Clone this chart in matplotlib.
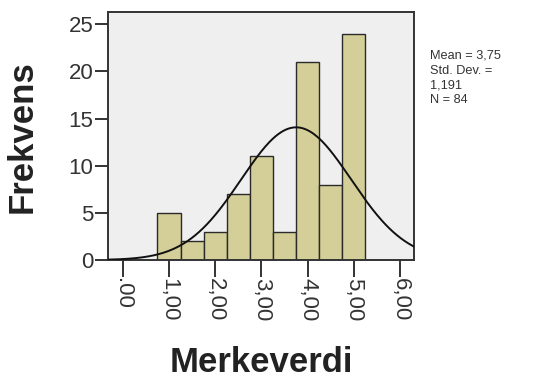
import numpy as np
import matplotlib
matplotlib.use("Agg")
import matplotlib.pyplot as plt

plt.rcParams['font.family'] = ['Liberation Sans', 'DejaVu Sans']

# Data
bin_edges = [0.75, 1.25, 1.75, 2.25, 2.75, 3.25, 3.75, 4.25, 4.75, 5.25]
counts = [5, 2, 3, 7, 11, 3, 21, 8, 24]
mean_val = 3.75
sd_val = 1.191
n_val = 84
x_ticks = [0, 1, 2, 3, 4, 5, 6]
x_ticklabels = [".00", "1,00", "2,00", "3,00", "4,00", "5,00", "6,00"]
y_ticks = [0, 5, 10, 15, 20, 25]
stats_text = "Mean = 3,75\nStd. Dev. =\n1,191\nN = 84"

fig = plt.figure(figsize=(5.35, 3.81), dpi=100)
ax = fig.add_axes([108/535, 1-260/381, (414-108)/535, (260-12)/381])
ax.set_facecolor('#EFEFEF')

lefts = np.array(bin_edges[:-1])
widths = np.diff(bin_edges)
ax.bar(lefts, counts, width=widths, align='edge', color='#D4CF98',
       edgecolor='#2a2a2a', linewidth=1.0, zorder=2)

bw = widths[0]
xs = np.linspace(-0.32, 6.30, 400)
ys = n_val * bw * np.exp(-0.5 * ((xs - mean_val) / sd_val) ** 2) / (sd_val * np.sqrt(2 * np.pi))
ax.plot(xs, ys, color='#111111', linewidth=1.4, zorder=3)

ax.set_xlim(-0.32, 6.30)
ax.set_ylim(0, 26.3)
ax.set_xticks(x_ticks)
ax.set_xticklabels(x_ticklabels, rotation=-90, fontsize=16, color='#333333')
ax.set_yticks(y_ticks)
ax.set_yticklabels([str(v) for v in y_ticks], fontsize=16, color='#333333')
ax.tick_params(axis='x', direction='out', length=12, width=1.4, color='#333333', pad=1)
ax.tick_params(axis='y', direction='out', length=9.5, width=1.4, color='#333333', pad=1)
for s in ax.spines.values():
    s.set_linewidth(1.4)
    s.set_color('#333333')

fig.text(22/535, 1-137/381, "Frekvens", rotation=90, fontsize=25, fontweight='bold',
         color='#222222', ha='center', va='center')
fig.text(261/535, 1-363/381, "Merkeverdi", fontsize=25, fontweight='bold',
         color='#222222', ha='center', va='center')
fig.text(430/535, 1-50/381, stats_text, fontsize=9.2, color='#333333',
         ha='left', va='top', linespacing=1.3)

fig.savefig("out.png", dpi=100)
